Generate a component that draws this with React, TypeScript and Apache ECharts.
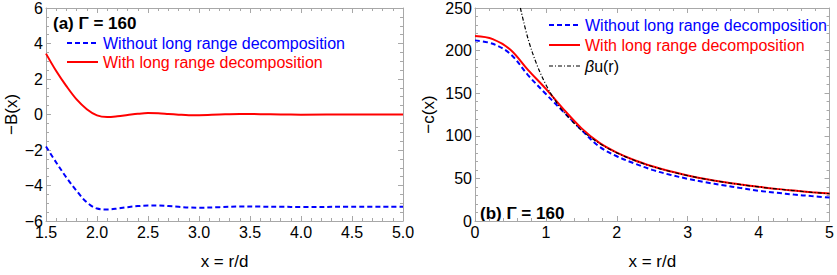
import React, { useEffect, useRef } from "react";
import * as echarts from "echarts";

// Panel (a): -B(x)
const xB = [1.5, 1.6, 1.7, 1.8, 1.9, 2.0, 2.1, 2.2, 2.3, 2.4, 2.5, 2.6, 2.7, 2.8, 2.9, 3.0, 3.2, 3.4, 3.6, 3.8, 4.0, 4.5, 5.0];
const bWithout = [-1.8, -2.7, -3.55, -4.3, -4.95, -5.3, -5.35, -5.3, -5.22, -5.16, -5.13, -5.13, -5.16, -5.2, -5.24, -5.25, -5.22, -5.18, -5.19, -5.2, -5.21, -5.2, -5.2];
const bWith = [3.43, 2.45, 1.6, 0.85, 0.3, -0.05, -0.14, -0.1, -0.03, 0.04, 0.08, 0.07, 0.03, -0.01, -0.04, -0.04, 0.0, 0.03, 0.02, 0.0, -0.01, 0.0, 0.0];

// Panel (b): -c(x)
const xC = [0, 0.25, 0.5, 0.75, 1.0, 1.25, 1.5, 1.75, 2.0, 2.25, 2.5, 2.75, 3.0, 3.25, 3.5, 3.75, 4.0, 4.25, 4.5, 4.75, 5.0];
const cWithout = [212, 208, 196, 171, 149, 128, 107, 87.5, 76, 67.5, 60, 54.3, 49.5, 45.5, 42, 38.6, 35.5, 33.2, 31, 29.2, 27.5];
const cWith = [217, 213.5, 201, 177, 155, 131, 109, 92, 80.3, 71.3, 64.2, 58.3, 53.5, 49.3, 45.8, 42.8, 40.1, 37.7, 35.7, 33.8, 32.2];
const xU = [0.64, 0.75, 0.875, 1.0, 1.125, 1.25, 1.5, 1.75, 2.0, 2.25, 2.5, 2.75, 3.0, 3.25, 3.5, 3.75, 4.0, 4.25, 4.5, 4.75, 5.0];
const betaU = [250, 213.3, 182.9, 160, 142.2, 128, 106.7, 91.4, 80, 71.1, 64, 58.2, 53.3, 49.2, 45.7, 42.7, 40, 37.6, 35.6, 33.7, 32];

const legendLabels = ["Without long range decomposition", "With long range decomposition", "βu(r)"];
const panelLabels = ["(a) Γ = 160", "(b) Γ = 160"];

const FONT = "'Liberation Sans', Arial, sans-serif";
const FRAME = "#a8a8a8";
const BLUE = "#0000ff";
const RED = "#ff0000";

const zip = (xs: number[], ys: number[]) => xs.map((x, i) => [x, ys[i]]);
const minus = (v: number, d: number) => {
  const s = v.toFixed(d);
  return v < 0 ? "\u2212" + s.slice(1) : s;
};

function axis(gridIndex: number, pos: string, min: number, max: number, interval: number, minorSplit: number, labels: boolean, dec: number, name?: string, nameGap?: number) {
  const vertical = pos === "left" || pos === "right";
  return {
    type: "value",
    gridIndex,
    position: pos,
    min,
    max,
    interval,
    name: name || "",
    nameLocation: "middle",
    nameGap: nameGap || 0,
    nameRotate: vertical ? 90 : 0,
    nameTextStyle: { fontFamily: FONT, fontSize: 17, color: "#000" },
    axisLine: { show: true, onZero: false, lineStyle: { color: FRAME, width: 1 } },
    axisTick: { show: true, inside: true, length: 5, lineStyle: { color: FRAME } },
    minorTick: { show: true, splitNumber: minorSplit, length: 3, lineStyle: { color: FRAME } },
    splitLine: { show: false },
    minorSplitLine: { show: false },
    axisLabel: {
      show: labels,
      margin: 3,
      fontFamily: FONT,
      fontSize: 16,
      color: "#000",
      formatter: (v: number) => minus(v, dec),
    },
  };
}

export default function App() {
  const ref = useRef<HTMLDivElement>(null);
  useEffect(() => {
    if (!ref.current) return;
    const chart = echarts.init(ref.current, undefined, { renderer: "svg" });
    const blueLine = { color: BLUE, width: 2, type: [5, 3] };
    const redLine = { color: RED, width: 2, type: "solid" };
    const blackLine = { color: "#000", width: 1.2, type: [4, 2, 1, 2] };
    const legendLine = (x: number, y: number, style: any) => ({
      type: "line",
      shape: { x1: x, y1: y, x2: x + 31, y2: y },
      style: { stroke: style.color, lineWidth: style.width, lineDash: Array.isArray(style.type) ? style.type : null },
    });
    const legendText = (x: number, y: number, text: string, color: string) => ({
      type: "text",
      x,
      y,
      style: { text, fill: color, font: `16px ${FONT}`, verticalAlign: "middle", align: "left" },
    });
    chart.setOption({
      animation: false,
      grid: [
        { left: 46, top: 6, width: 357, height: 221 },
        { left: 475, top: 6, width: 356, height: 221 },
      ],
      xAxis: [
        axis(0, "bottom", 1.5, 5, 0.5, 5, true, 1, "x = r/d", 32),
        axis(0, "top", 1.5, 5, 0.5, 5, false, 1),
        axis(1, "bottom", 0, 5, 1, 5, true, 0, "x = r/d", 32),
        axis(1, "top", 0, 5, 1, 5, false, 0),
      ],
      yAxis: [
        axis(0, "left", -6, 6, 2, 4, true, 0, "\u2212B(x)", 26),
        axis(0, "right", -6, 6, 2, 4, false, 0),
        axis(1, "left", 0, 250, 50, 5, true, 0, "\u2212c(x)", 38),
        axis(1, "right", 0, 250, 50, 5, false, 0),
      ],
      series: [
        { type: "line", name: legendLabels[0], xAxisIndex: 0, yAxisIndex: 0, data: zip(xB, bWithout), smooth: 0.35, showSymbol: false, symbol: "none", lineStyle: blueLine },
        { type: "line", name: legendLabels[1], xAxisIndex: 0, yAxisIndex: 0, data: zip(xB, bWith), smooth: 0.35, showSymbol: false, symbol: "none", lineStyle: redLine },
        { type: "line", name: legendLabels[0], xAxisIndex: 2, yAxisIndex: 2, data: zip(xC, cWithout), smooth: 0.35, showSymbol: false, symbol: "none", lineStyle: blueLine },
        { type: "line", name: legendLabels[1], xAxisIndex: 2, yAxisIndex: 2, data: zip(xC, cWith), smooth: 0.35, showSymbol: false, symbol: "none", lineStyle: redLine },
        { type: "line", name: legendLabels[2], xAxisIndex: 2, yAxisIndex: 2, data: zip(xU, betaU), smooth: 0.35, showSymbol: false, symbol: "none", lineStyle: blackLine },
      ],
      graphic: [
        { type: "text", x: 53, y: 23, style: { text: panelLabels[0], fill: "#000", font: `bold 17px ${FONT}`, verticalAlign: "middle" } },
        legendLine(67, 43, blueLine),
        legendText(103, 43, legendLabels[0], BLUE),
        legendLine(67, 62, redLine),
        legendText(103, 62, legendLabels[1], RED),
        legendLine(549, 25, blueLine),
        legendText(585, 25, legendLabels[0], BLUE),
        legendLine(549, 45, redLine),
        legendText(585, 45, legendLabels[1], RED),
        legendLine(549, 66, blackLine),
        {
          type: "text",
          x: 585,
          y: 66,
          style: {
            text: "{i|β}u(r)",
            fill: "#000",
            font: `16px ${FONT}`,
            verticalAlign: "middle",
            rich: { i: { fontStyle: "italic", fontFamily: FONT, fontSize: 16, fill: "#000" } },
          },
        },
        { type: "text", x: 480, y: 213, style: { text: panelLabels[1], fill: "#000", font: `bold 17px ${FONT}`, verticalAlign: "middle" } },
      ],
    });
    return () => chart.dispose();
  }, []);
  return <div ref={ref} style={{ position: "fixed", left: 0, top: 0, width: 837, height: 275, background: "#fff" }} />;
}
